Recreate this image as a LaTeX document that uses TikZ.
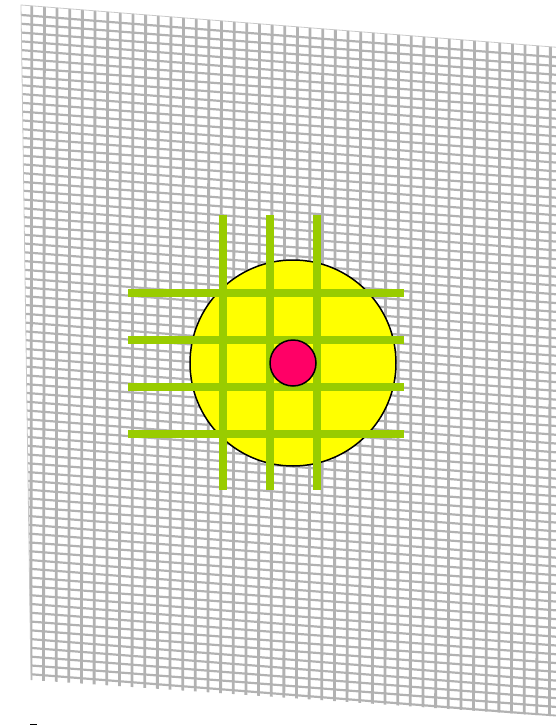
\documentclass[tikz,border=0pt]{standalone}
\usetikzlibrary{positioning}
\definecolor{meshgray}{RGB}{178,178,178}
\definecolor{bargreen}{RGB}{153,204,0}
\definecolor{dotred}{RGB}{255,0,102}
\definecolor{poolyellow}{RGB}{255,255,0}
\tikzset{
  mesh line/.style={draw=meshgray, line width=2.4pt},
  green bar/.style={draw=bargreen, line width=7.5pt},
  disc/.style={circle, draw=black, line width=1.5pt, inner sep=0pt}
}

\begin{document}
\begin{tikzpicture}[x=1pt, y=-1pt]
    \useasboundingbox (0,0) rectangle (555,725);
    % Mesh
    \begin{scope}
        \clip (21,5) -- (600,50.7) -- (600,719.5) -- (31,680) -- cycle;
        \foreach \i in {0,...,75}
            \draw [mesh line, line width=2.2pt] (0,{13.3+8.78*\i}) -- (600,{13.3+8.78*\i+47.4});
        \foreach \j in {0,...,45}
            \draw [mesh line, line width=2.8pt] ({31.8+12.65*\j},0) -- ({30.8+12.65*\j},725);
    \end{scope}
    \draw [meshgray!70, line width=0.8pt] (31,680) -- (21,5) -- (600,50.7);

    % Circles and bars
    \node [disc, fill=poolyellow, minimum size=206pt] (pool) at (293,363) {};
    \foreach \dy in {-70,-23,24,71}
        \draw [green bar] ([shift={(-165,\dy)}]pool.center) -- ++(276,0);
    \foreach \dx in {-70,-23,24}
        \draw [green bar] ([shift={(\dx,-148)}]pool.center) -- ++(0,275);
    \node [disc, fill=dotred, minimum size=46pt] (core) at (pool.center) {};

    % cut-off mark
    \fill (30,723.5) rectangle (37,725);
\end{tikzpicture}
\end{document}
